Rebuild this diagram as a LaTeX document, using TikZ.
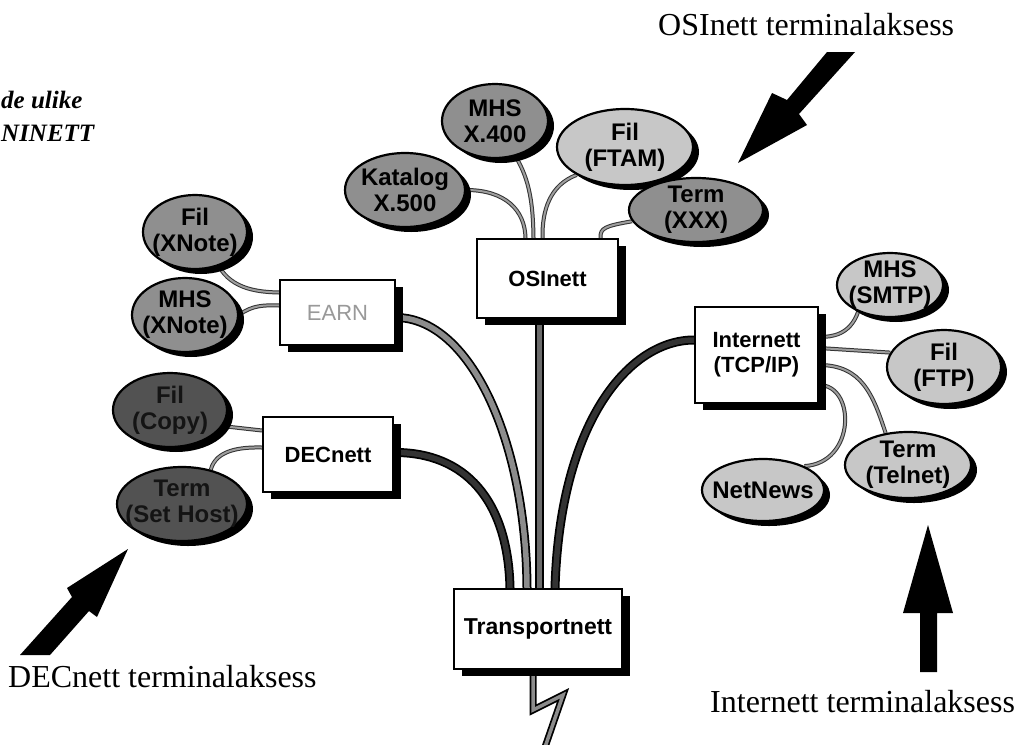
\documentclass[tikz,border=0pt]{standalone}
\usepackage{fontspec}
\setmainfont{Liberation Serif}
\setsansfont{Liberation Sans}
\usetikzlibrary{shapes.geometric,shadows,calc,backgrounds}
\tikzset{
  netbox/.style={rectangle, draw=black, line width=2pt, fill=white, inner sep=0pt, align=center,
    font=\sffamily\bfseries\fontsize{22}{25}\selectfont,
    general shadow={fill=black, shadow xshift=8pt, shadow yshift=-7pt}},
  bubble/.style={ellipse, draw=black, line width=2.2pt, inner sep=-12pt, align=center,
    font=\sffamily\bfseries\fontsize{24}{26}\selectfont,
    general shadow={fill=black, shadow xshift=6pt, shadow yshift=-5pt}},
  midb/.style={bubble, fill=black!44},
  lightb/.style={bubble, fill=black!22},
  darkb/.style={bubble, fill=black!68, text=black!92},
  caption/.style={font=\fontsize{32}{36}\selectfont, inner sep=0pt, anchor=base west},
  titletext/.style={font=\bfseries\itshape\fontsize{25}{28}\selectfont, inner sep=0pt, anchor=base west},
  thinlink/.style={draw=black!80, line width=4pt, postaction={draw=black!38, line width=2pt}},
  trunk/.style={draw=black, line width=9pt, postaction={draw=#1, line width=5.5pt}},
  bolt/.style={draw=black, line width=7pt, miter limit=4, postaction={draw=black!45, line width=3.5pt}},
}
\begin{document}
\begin{tikzpicture}[x=1pt,y=-1pt]
\useasboundingbox (0,0) rectangle (1016,744);

% bubbles
\node[midb, minimum width=106, minimum height=74] (mhsx) at (495,121) {MHS\\X.400};
\node[lightb, minimum width=136, minimum height=76] (ftam) at (625,147) {Fil\\(FTAM)};
\node[midb, minimum width=120, minimum height=74] (kat) at (405,190) {Katalog\\X.500};
\node[midb, minimum width=134, minimum height=64] (txx) at (696,210) {Term\\(XXX)};
\node[midb, minimum width=104, minimum height=74] (fxn) at (195,232) {Fil\\(XNote)};
\node[midb, minimum width=106, minimum height=74] (mxn) at (185,315) {MHS\\(XNote)};
\node[darkb, minimum width=114, minimum height=74] (fcp) at (170,410) {Fil\\(Copy)};
\node[darkb, minimum width=130, minimum height=74] (tsh) at (182,504) {Term\\(Set Host)};
\node[lightb, minimum width=106, minimum height=64] (smtp) at (890,285) {MHS\\(SMTP)};
\node[lightb, minimum width=114, minimum height=74] (ftp) at (944,367) {Fil\\(FTP)};
\node[lightb, minimum width=126, minimum height=66] (tel) at (908,465) {Term\\(Telnet)};
\node[lightb, minimum width=122, minimum height=62] (nn) at (763,490) {NetNews};

% boxes
\node[netbox, minimum width=141, minimum height=79] (os) at (547.5,278.5) {OSInett};
\node[netbox, minimum width=115, minimum height=65, font=\sffamily\fontsize{22}{25}\selectfont, text=black!40] (earn) at (337.5,312.5) {EARN};
\node[netbox, minimum width=130, minimum height=75] (dec) at (328,454.5) {DECnett};
\node[netbox, minimum width=123, minimum height=96] (inet) at (756.5,355) {Internett\\(TCP/IP)};
\node[netbox, minimum width=168, minimum height=80, font=\sffamily\bfseries\fontsize{23}{26}\selectfont] (tr) at (538,629) {Transportnett};

\coordinate (boltend) at (544,750);

\begin{scope}[on background layer]
\fill[white] (0,0) rectangle (1016,744);
% trunks
\draw[trunk=black!45] ($(earn.east)+(0,5)$) .. controls (470,318) and (526,440) .. ($(tr.north)+(-11,0)$);
\draw[trunk=black!58] ($(os.south)+(-8,0)$) -- ($(tr.north)+(1.5,0)$);
\draw[trunk=black!80] ($(dec.east)+(0,-2)$) .. controls (465,452) and (508,500) .. ($(tr.north)+(-28,0)$);
\draw[trunk=black!80] ($(inet.west)+(0,-15)$) .. controls (630,340) and (560,420) .. ($(tr.north)+(17,0)$);
% thin links
\draw[thinlink] (kat.0) .. controls (505,190) and (525,210) .. ($(os.north)+(-22,0)$);
\draw[thinlink] (mhsx.-60) .. controls (530,180) and (533,205) .. ($(os.north)+(-14,0)$);
\draw[thinlink] (ftam.-150) .. controls (550,185) and (542,210) .. ($(os.north)+(-5,0)$);
\draw[thinlink] (txx.-170) .. controls (605,226) and (600,228) .. ($(os.north)+(53,0)$);
\draw[thinlink] (fxn.-55) .. controls (232,290) and (260,292) .. ($(earn.west)+(0,-20)$);
\draw[thinlink] (mxn.0) .. controls (252,305) and (265,305) .. ($(earn.west)+(0,-7)$);
\draw[thinlink] (fcp.-17) -- ($(dec.west)+(0,-24)$);
\draw[thinlink] (tsh.50) .. controls (216,450) and (240,447) .. ($(dec.west)+(0,-7)$);
\draw[thinlink] (smtp.-140) .. controls (850,335) and (832,337) .. ($(inet.east)+(0,-18)$);
\draw[thinlink] (ftp.165) -- ($(inet.east)+(0,-7)$);
\draw[thinlink] ($(inet.east)+(0,10)$) .. controls (862,365) and (873,395) .. (tel.125);
\draw[thinlink] ($(inet.east)+(0,30)$) .. controls (856,385) and (856,463) .. (nn.30);
% bolt
\draw[bolt] ($(tr.south)+(-5,0)$) -- (533,710) -- (563,695) -- (boltend);
\end{scope}

% big arrows
\fill[black] (827,52) -- (855,52) -- (799,114) -- (807,125) -- (738,163) -- (772,93) -- (787,100) -- cycle;
\fill[black] (20,655) -- (72,597) -- (67,588) -- (128,549) -- (97,617) -- (89,611) -- (50,655) -- cycle;
\fill[black] (920,672) -- (920,613) -- (903,613) -- (928,525) -- (953,613) -- (937,613) -- (937,672) -- cycle;

% captions
\node[caption] (osicap) at (658,35) {OSInett terminalaksess};
\node[caption] (deccap) at (8,687) {DECnett terminalaksess};
\node[caption] (inetcap) at (710,712) {Internett terminalaksess};
\node[titletext] (t1) at (1,108) {de ulike};
\node[titletext] (t2) at (1,141) {NINETT};
\end{tikzpicture}
\end{document}
